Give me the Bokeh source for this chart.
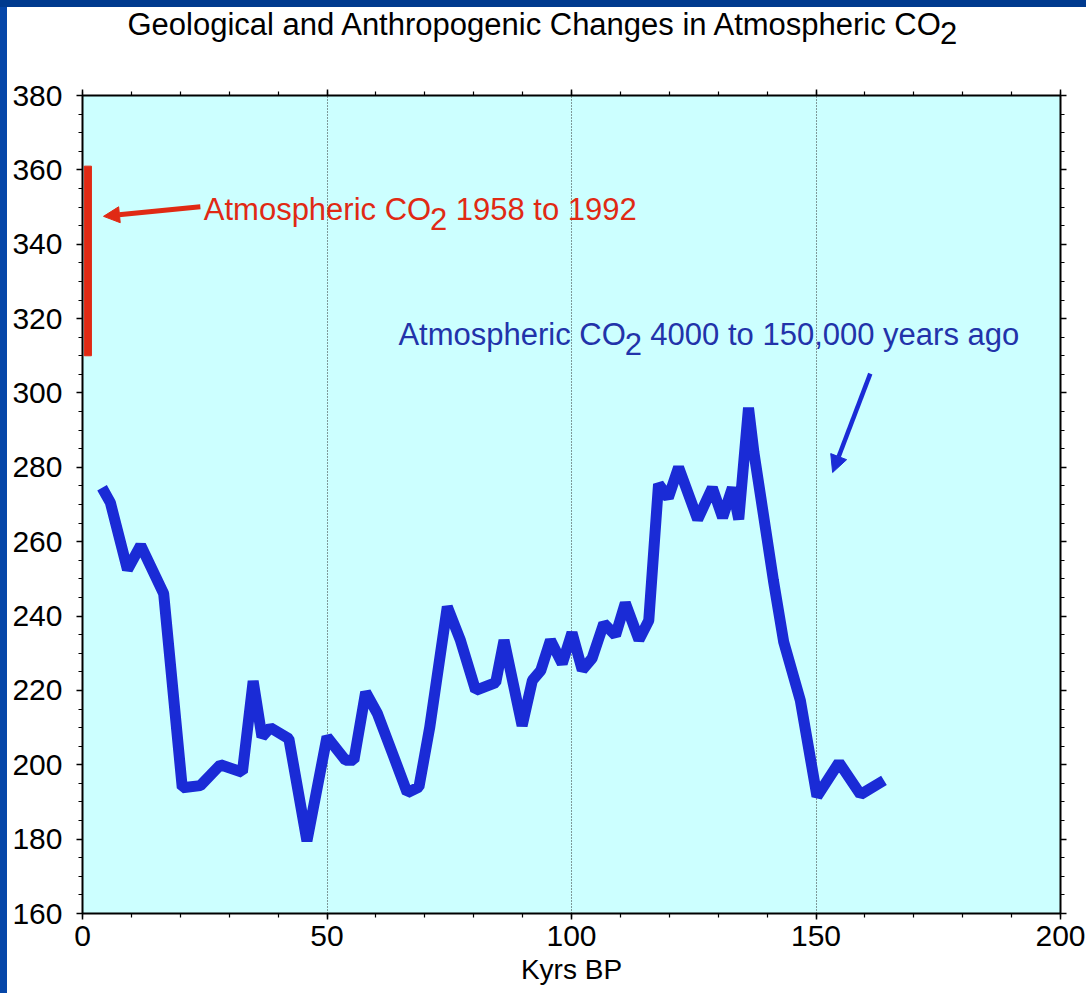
from bokeh.plotting import figure
from bokeh.layouts import column, row
from bokeh.models import (Range1d, LinearAxis, FixedTicker, Label, Arrow, NormalHead,
                          CustomJSTickFormatter, Spacer)
from bokeh.embed import file_html
from bokeh.resources import INLINE

# ---------------- data ----------------
age_kyr = [4.0, 5.7, 9.2, 11.9, 16.6, 20.4, 24.1, 28.2, 32.7, 34.9, 36.7, 38.4, 42.2,
           45.9, 50.0, 53.8, 55.5, 57.9, 60.3, 63.7, 66.4, 68.8, 71.0, 74.6, 77.3,
           80.4, 84.5, 86.2, 89.9, 92.0, 93.7, 95.7, 98.1, 100.1, 102.2, 104.2, 106.6,
           109.0, 111.0, 113.8, 115.8, 117.8, 119.8, 121.9, 125.8, 128.8, 130.9, 132.9,
           134.2, 136.2, 137.3, 138.7, 141.3, 143.4, 146.8, 150.2, 154.7, 159.1, 163.9]
co2_ppm = [274.5, 270.5, 252.5, 259.0, 246.0, 193.8, 194.4, 200.0, 198.0, 222.5, 207.5,
           210.0, 207.0, 179.5, 207.5, 201.2, 201.2, 219.5, 213.8, 202.0, 192.5, 194.0,
           210.0, 242.5, 233.4, 220.0, 222.1, 233.5, 210.5, 222.7, 225.3, 233.5, 227.2,
           235.5, 225.5, 228.6, 238.0, 234.8, 243.5, 233.6, 238.8, 275.5, 271.8, 280.0,
           266.0, 274.5, 266.5, 274.5, 266.0, 296.0, 284.0, 272.0, 249.5, 233.0, 217.3,
           191.5, 200.6, 192.0, 195.8]

modern_x = [1.1]
modern_low = [310]
modern_high = [361]

x_major = [0, 50, 100, 150, 200]
x_minor = list(range(0, 201, 10))
x_grid = [50, 100, 150]
y_major = list(range(160, 381, 20))
y_minor = list(range(160, 381, 5))

title_text = ["Geological and Anthropogenic Changes in Atmospheric CO", "2"]
red_text = ["Atmospheric CO", "2", "1958 to 1992"]
blue_text = ["Atmospheric CO", "2", "4000 to 150,000 years ago"]
xlabel = "Kyrs BP"

FONT = "Liberation Sans"
FS = 31
TICK_FS = 30
BLUE = "#1a2bd6"
BLUE_TXT = "#2233aa"
RED = "#e02a14"
PAGE_BLUE_TOP = "#003a8e"
PAGE_BLUE_LEFT = "#0646a8"

PAD_L = 7
PAD_T = 7

# Arial / Liberation Sans advance widths (per 1000 em)
W = {' ': 278, 'A': 667, 'C': 722, 'O': 778, 'G': 778, 'a': 556, 'c': 500, 'd': 556,
     'e': 556, 'g': 556, 'h': 556, 'i': 222, 'l': 222, 'm': 833, 'n': 556, 'o': 556,
     'p': 556, 'r': 333, 's': 500, 't': 278, '2': 556}


def tw(s, fs, k):
    return sum(W.get(c, 556) for c in s) / 1000.0 * fs * k


def multi_label(fig, x, y, parts, color, fs, sub_drop=9, k=0.995):
    off = 0.0
    for s in parts:
        fig.add_layout(Label(x=x, y=y, text=s, x_offset=off,
                             y_offset=(-sub_drop if s == "2" else 0),
                             text_font=FONT, text_font_size=f"{fs}px", text_color=color,
                             text_baseline="alphabetic", text_align="left"))
        off += tw(s, fs, k) + (tw(" ", fs, k) if s == "2" else 0)


# ---------------- title strip ----------------
TH = 70 - PAD_T
tfig = figure(frame_width=978, frame_height=TH, x_range=Range1d(0, 200), y_range=Range1d(0, TH),
              output_backend="svg", toolbar_location=None,
              min_border_left=82 - PAD_L, min_border_right=26, min_border_top=0,
              min_border_bottom=0, background_fill_color="white", border_fill_color="white")
tfig.axis.visible = False
tfig.grid.visible = False
tfig.outline_line_color = None
multi_label(tfig, 9.2, TH - 17, title_text, "black", FS, sub_drop=8, k=0.995)

# ---------------- main plot ----------------
p = figure(frame_width=978, frame_height=818, x_range=Range1d(0, 200), y_range=Range1d(160, 380),
           output_backend="svg", toolbar_location=None,
           min_border_left=82 - PAD_L, min_border_right=26, min_border_top=95 - 70,
           min_border_bottom=70,
           background_fill_color="#ccffff", border_fill_color="white")
p.outline_line_color = None

xt = FixedTicker(ticks=x_major, minor_ticks=x_minor)
yt = FixedTicker(ticks=y_major, minor_ticks=y_minor)


def style(ax):
    ax.axis_line_color = "black"
    ax.axis_line_width = 2
    ax.major_tick_line_color = "black"
    ax.minor_tick_line_color = "black"
    ax.major_tick_line_width = 1.5
    ax.minor_tick_line_width = 1.2
    ax.major_tick_in = 0
    ax.major_tick_out = 6
    ax.minor_tick_in = 0
    ax.minor_tick_out = 4
    ax.major_label_text_font = FONT
    ax.major_label_text_font_size = f"{TICK_FS}px"
    ax.major_label_text_color = "black"


p.xaxis.ticker = xt
p.yaxis.ticker = yt
style(p.xaxis[0])
style(p.yaxis[0])
p.xaxis.major_label_standoff = 6
p.yaxis.major_label_standoff = 14
p.xaxis.axis_label = xlabel
p.xaxis.axis_label_text_font = FONT
p.xaxis.axis_label_text_font_size = "28px"
p.xaxis.axis_label_text_font_style = "normal"
p.xaxis.axis_label_text_color = "black"
p.xaxis.axis_label_standoff = 5

for loc in ("above", "right"):
    ax = LinearAxis(ticker=xt if loc == "above" else yt,
                    formatter=CustomJSTickFormatter(code="return ''"))
    style(ax)
    ax.major_label_text_font_size = "1px"
    ax.major_label_standoff = 0
    p.add_layout(ax, loc)

p.xgrid.ticker = FixedTicker(ticks=x_grid)
p.xgrid.grid_line_color = "#333333"
p.xgrid.grid_line_dash = "1 2"
p.xgrid.grid_line_width = 1
p.ygrid.visible = False

# modern CO2 bar
p.vbar(x=modern_x, width=1.45, bottom=modern_low, top=modern_high, color=RED)

# ice core line
p.line(age_kyr, co2_ppm, line_width=11, color=BLUE, line_join="bevel")

# arrows
p.add_layout(Arrow(x_start=24.1, y_start=350.1, x_end=4.3, y_end=347.5,
                   line_color=RED, line_width=5,
                   end=NormalHead(size=16, fill_color=RED, line_color=RED)))
p.add_layout(Arrow(x_start=161.1, y_start=305.2, x_end=153.4, y_end=278.6,
                   line_color=BLUE, line_width=4.5,
                   end=NormalHead(size=17, fill_color=BLUE, line_color=BLUE)))

multi_label(p, 24.8, 349.4, red_text, RED, FS, sub_drop=10)
multi_label(p, 64.6, 315.8, blue_text, BLUE_TXT, FS, sub_drop=10)

content = column(tfig, p, spacing=0)
top_strip = Spacer(width=1086, height=PAD_T, styles={"background-color": PAGE_BLUE_TOP})
left_strip = Spacer(width=PAD_L, height=993 - PAD_T, styles={"background-color": PAGE_BLUE_LEFT})
layout = column(top_strip, row(left_strip, content, spacing=0), spacing=0)
open("out.html", "w").write(file_html(layout, INLINE))
